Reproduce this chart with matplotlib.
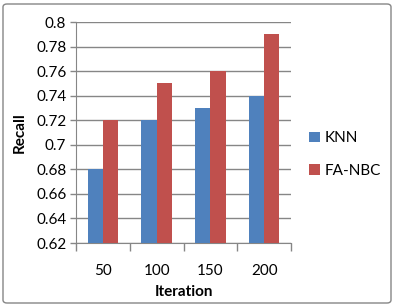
import numpy as np
import matplotlib.pyplot as plt
from matplotlib.patches import FancyBboxPatch

plt.rcParams['font.family'] = ['Lato', 'DejaVu Sans']

iterations = ['50', '100', '150', '200']
knn = [0.68, 0.72, 0.73, 0.74]
fa_nbc = [0.72, 0.75, 0.76, 0.79]

fig = plt.figure(figsize=(3.94, 3.06), dpi=100)
ax = fig.add_axes([76/394, 1 - 243/306, 215/394, 221/306])

x = np.arange(len(iterations))
w = 1 / 3.5
ax.bar(x - w/2, knn, w, color='#4F81BD', label='KNN', zorder=3)
ax.bar(x + w/2, fa_nbc, w, color='#C0504D', label='FA-NBC', zorder=3)

ax.set_ylim(0.62, 0.8)
ax.set_xlim(-0.5, 3.5)
ax.set_yticks(np.arange(0.62, 0.8001, 0.02))
ax.set_yticklabels(['0.62', '0.64', '0.66', '0.68', '0.7', '0.72', '0.74', '0.76', '0.78', '0.8'])
ax.yaxis.grid(True, color='#868686', linewidth=1, zorder=0)

ax.set_xticks(np.arange(-0.5, 3.6, 1))
ax.set_xticklabels([])
ax.set_xticks(x, minor=True)
ax.set_xticklabels(iterations, minor=True)
ax.tick_params(axis='x', which='minor', length=0, pad=15, labelsize=11)
ax.tick_params(axis='x', which='major', length=6, color='#868686', width=1)
ax.tick_params(axis='y', length=4, color='#868686', width=1, labelsize=11, pad=3)

for s in ['top', 'right']:
    ax.spines[s].set_visible(False)
for s in ['left', 'bottom']:
    ax.spines[s].set_color('#868686')

ax.set_ylabel('Recall', fontweight='bold', fontsize=11, labelpad=7)
ax.set_xlabel('Iteration', fontweight='bold', fontsize=11, labelpad=5)

ax.legend(loc='center left', bbox_to_anchor=(1.02, 0.4), frameon=False,
          handlelength=0.7, handleheight=0.7, handletextpad=0.3,
          labelspacing=1.2, fontsize=11)

border = FancyBboxPatch((3/394, 3/306), 388/394, 299/306,
                        boxstyle='round,pad=0,rounding_size=0.01',
                        transform=fig.transFigure, fill=False,
                        edgecolor='#868686', linewidth=1)
fig.patches.append(border)

fig.savefig('out.png', dpi=100)
